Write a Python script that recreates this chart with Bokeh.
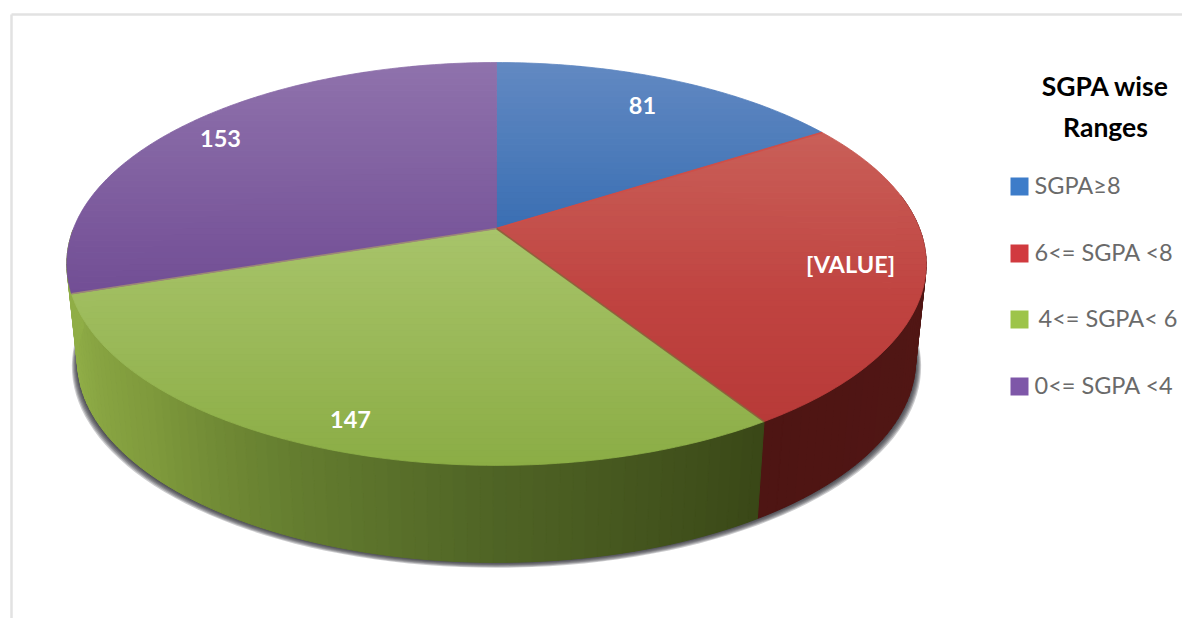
import math
from bokeh.plotting import figure
from bokeh.embed import file_html
from bokeh.resources import INLINE
from bokeh.models import Range1d
from bokeh.core.properties import value

# ---- data ----
categories = ["SGPA≥8", "6<= SGPA <8", "4<= SGPA< 6", "0<= SGPA <4"]
counts = [81, 127, 147, 153]          # the red slice's count is estimated from its angle
slice_labels = ["81", "[VALUE]", "147", "153"]
title_lines = ["SGPA wise", "Ranges"]

# ---- style and layout ----
W, H = 1182, 618
FONT = "Lato"
CX, CY = 496, 228
A, B, K = 423.0, 195.2, 0.176
DEPTH, BASE_SCALE = 97, 0.975
face_grad = [
    [(62, "#6289C2"), (228, "#3A6FB3")],
    [(132, "#C95F58"), (300, "#C04340"), (420, "#B83A38")],
    [(228, "#A8C46A"), (465, "#8BAD45")],
    [(62, "#8F72AC"), (290, "#724E95")],
]
wall_grad = [
    None,
    [(0.0, "#551716"), (1.0, "#4E1513")],
    [(0.0, "#3A4817"), (0.31, "#4F6425"), (0.55, "#667F30"), (0.75, "#7F9A3C"), (1.0, "#90AE47")],
    None,
]
legend_colors = ["#3D7CC9", "#D13A3F", "#9DC44A", "#7E57A8"]
label_xy = [(642, 105), (850, 263), (350, 419), (220, 138)]
legend_y = [186, 253, 319, 386]
legend_tx = [1034, 1034, 1038, 1034]
separator_colors = ["#D04C46", "#8F5A38", "#A08C74", "#5A6FA8"]


def hex2rgb(c):
    return [int(c[i:i + 2], 16) for i in (1, 3, 5)]


def ramp(stops, t):
    if t <= stops[0][0]:
        return stops[0][1]
    for (a, ca), (b, cb) in zip(stops, stops[1:]):
        if t <= b:
            f = (t - a) / (b - a)
            r = [round(p + (q - p) * f) for p, q in zip(hex2rgb(ca), hex2rgb(cb))]
            return "#%02X%02X%02X" % tuple(r)
    return stops[-1][1]


def rim(theta_deg, xscale=1.0, dy=0.0):
    t = math.radians(theta_deg)
    u, v = math.sin(t), math.cos(t)
    d = 1 + K * v
    return CX + xscale * A * u / d, CY - B * v / d + dy


def clip(poly, keep):
    out = []
    n = len(poly)
    for i in range(n):
        p, q = poly[i], poly[(i + 1) % n]
        ip, iq = keep(p), keep(q)
        if ip >= 0:
            out.append(p)
        if (ip >= 0) != (iq >= 0):
            f = ip / (ip - iq)
            out.append((p[0] + (q[0] - p[0]) * f, p[1] + (q[1] - p[1]) * f))
    return out


total = sum(counts)
edges = [0.0]
for c in counts:
    edges.append(edges[-1] + 360.0 * c / total)

p = figure(width=W, height=H, output_backend="svg", toolbar_location=None,
           x_range=Range1d(0, W), y_range=Range1d(H, 0), min_border=0,
           outline_line_color=None, background_fill_color="white", border_fill_color="white")
p.axis.visible = False
p.grid.visible = False

# card edge
p.line([11, 11], [14, H], line_color="#E2E2E2", line_width=2.5)
p.line([11, W], [14, 14], line_color="#E2E2E2", line_width=2.5)

# soft shadow below the base
ring = [rim(a) for a in range(0, 360, 2)]
for i in range(6, 0, -1):
    xs = [CX + (x - CX) * (BASE_SCALE + 0.0022 * i) for x, _ in ring]
    ys = [y + DEPTH + 0.9 * i for _, y in ring]
    p.patch(xs, ys, fill_color="#2A2A34", fill_alpha=0.24, line_color=None)

# side wall
wx, wy, wc = [], [], []
for i, grad in enumerate(wall_grad):
    if grad is None:
        continue
    a0, a1 = edges[i], edges[i + 1]
    if i == 1:
        a0 = 80.0
    if i == 2:
        a1 = edges[3] + 18
    a = a0
    while a < a1:
        b = min(a + 1.5, a1)
        top0, top1 = rim(a), rim(b)
        bot1, bot0 = rim(b, BASE_SCALE, DEPTH), rim(a, BASE_SCALE, DEPTH)
        wx.append([top0[0], top1[0], bot1[0], bot0[0]])
        wy.append([top0[1], top1[1], bot1[1], bot0[1]])
        wc.append(ramp(grad, (a - edges[i]) / (edges[i + 1] - edges[i])))
        a = b
p.patches(wx, wy, fill_color=wc, line_color=wc, line_width=1)

# top face, in thin horizontal colour bands
BAND = 6
for i, grad in enumerate(face_grad):
    a0, a1 = edges[i], edges[i + 1]
    n = int(a1 - a0) + 1
    poly = [(float(CX), float(CY))] + [rim(a0 + (a1 - a0) * j / n) for j in range(n + 1)]
    fx, fy, fc = [], [], []
    y = 60
    while y < 470:
        part = clip(poly, lambda q: q[1] - y)
        part = clip(part, lambda q: (y + BAND) - q[1]) if part else part
        if len(part) >= 3:
            fx.append([q[0] for q in part])
            fy.append([q[1] for q in part])
            fc.append(ramp(grad, y + BAND / 2))
        y += BAND
    p.patches(fx, fy, fill_color=fc, line_color=fc, line_width=0.8)

# slice separators
for i, a in enumerate(edges[1:4]):
    e = rim(a)
    p.line([CX, e[0]], [CY, e[1]], line_color=separator_colors[i], line_width=1.6, line_alpha=0.9)

# slice labels
p.text([q[0] for q in label_xy], [q[1] for q in label_xy], text=slice_labels,
       text_color="white", text_font=value(FONT), text_font_style="bold",
       text_font_size="23.5px", text_align="center", text_baseline="middle")

# legend
p.text([1105, 1105], [85, 126], text=title_lines, text_color="black", text_font=value(FONT),
       text_font_style="bold", text_font_size="26.5px", text_align="center", text_baseline="middle")
p.scatter([1019] * 4, legend_y, marker="square", size=18, fill_color=legend_colors, line_color=None)
p.text(legend_tx, [y - 1.5 for y in legend_y], text=categories, text_color="#6A6A6A", text_font=value(FONT),
       text_font_size="23.5px", text_align="left", text_baseline="middle")

open("out.html", "w").write(file_html(p, INLINE))
